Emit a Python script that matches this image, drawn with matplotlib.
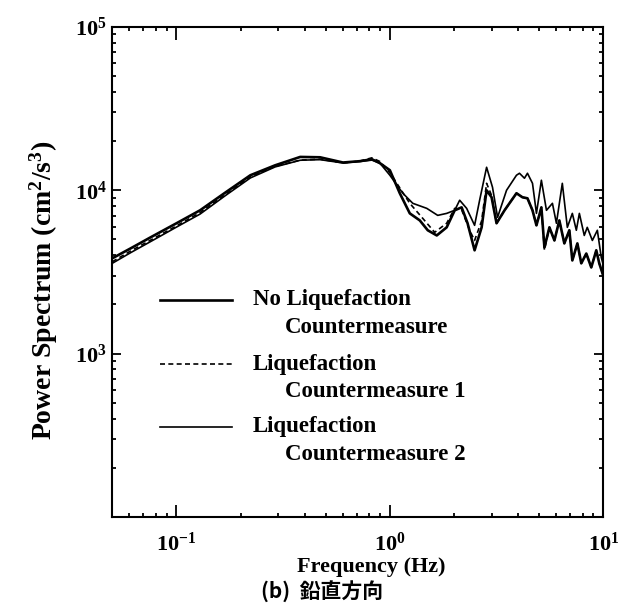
import matplotlib
matplotlib.use("Agg")
import matplotlib.pyplot as plt
from matplotlib.ticker import LogLocator, NullFormatter, FixedLocator, LogFormatterSciNotation

# values (Hz, cm^2/s^3)
freq_none = [0.050, 0.061, 0.0756, 0.100, 0.129, 0.169, 0.222, 0.290, 0.380, 0.471,
             0.603, 0.724, 0.824, 0.898, 1.0, 1.113, 1.240, 1.381, 1.505, 1.659,
             1.846, 2.013, 2.169, 2.313, 2.495, 2.692, 2.840, 2.997, 3.162, 3.447,
             3.920, 4.182, 4.414, 4.660, 4.863, 5.129, 5.300, 5.594, 5.904, 6.226,
             6.570, 6.935, 7.163, 7.563, 7.889, 8.329, 8.787, 9.275, 9.578, 10.0]
pow_none = [3830, 4410, 5150, 6280, 7540, 9660, 12360, 14220, 16000, 15920,
            14790, 15070, 15490, 14660, 13270, 9590, 7220, 6540, 5690, 5290,
            5930, 7540, 7860, 6280, 4290, 5930, 10000, 9060, 6280, 7540,
            9590, 9060, 8930, 7540, 6100, 7860, 4470, 5930, 4930, 6540,
            4730, 5690, 3720, 4730, 3570, 4100, 3370, 4290, 3570, 3000]

freq_cm1 = [0.050, 0.061, 0.0756, 0.100, 0.129, 0.169, 0.222, 0.290, 0.380, 0.471,
            0.603, 0.724, 0.824, 0.898, 1.0, 1.078, 1.240, 1.426, 1.622, 1.846,
            2.013, 2.169, 2.365, 2.495, 2.692, 2.840, 2.997, 3.162, 3.447, 3.920,
            4.182, 4.414, 4.660, 4.863, 5.129, 5.300, 5.594, 5.904, 6.226, 6.570,
            6.935, 7.163, 7.563, 7.889, 8.329, 8.787, 9.275, 9.578, 10.0]
pow_cm1 = [3650, 4250, 4950, 6050, 7300, 9400, 12100, 14000, 15300, 15500,
           14700, 15100, 15800, 15000, 12800, 11030, 8320, 6730, 5530, 6280,
           7750, 7600, 5690, 4930, 6500, 11030, 9300, 6280, 7540, 9590,
           9060, 8930, 7540, 6100, 7860, 4300, 5930, 4930, 6540, 4730,
           5690, 3720, 4730, 3570, 4100, 3370, 4290, 3570, 3000]

freq_cm2 = [0.050, 0.061, 0.0756, 0.100, 0.129, 0.169, 0.222, 0.290, 0.380, 0.471,
            0.603, 0.724, 0.824, 0.898, 1.0, 1.150, 1.281, 1.489, 1.676, 1.846,
            2.013, 2.124, 2.290, 2.495, 2.634, 2.840, 3.027, 3.197, 3.522, 3.920,
            4.049, 4.273, 4.414, 4.660, 4.863, 5.129, 5.418, 5.778, 6.032, 6.429,
            6.787, 7.163, 7.478, 7.727, 8.147, 8.414, 8.890, 9.382, 9.787, 10.0]
pow_cm2 = [3570, 4150, 4850, 5950, 7150, 9250, 11900, 13900, 15270, 15400,
           14700, 15000, 15300, 14660, 12360, 9590, 8320, 7750, 7020, 7220,
           7540, 8690, 7750, 6100, 8690, 13830, 10430, 6830, 10000, 12360,
           12710, 11850, 12710, 11030, 7220, 11520, 7540, 8320, 6280, 11030,
           5930, 7220, 5690, 7220, 5290, 5930, 4930, 5690, 3880, 3500]

legend_lines = ["No Liquefaction", "Liquefaction", "Liquefaction"]
legend_second = ["Countermeasure", "Countermeasure 1", "Countermeasure 2"]

plt.rcParams['font.family'] = ['Liberation Serif']
plt.rcParams['font.weight'] = 'bold'
plt.rcParams['mathtext.fontset'] = 'custom'
plt.rcParams['mathtext.rm'] = 'Liberation Serif:bold'
plt.rcParams['mathtext.it'] = 'Liberation Serif:bold'
plt.rcParams['mathtext.bf'] = 'Liberation Serif:bold'

fig = plt.figure(figsize=(6.2, 6.05), dpi=100)
ax = fig.add_axes([0.181, 0.1455, 0.792, 0.81])

ax.plot(freq_none, pow_none, color='black', lw=1.9)
ax.plot(freq_cm1, pow_cm1, color='black', lw=1.2, ls=(0, (3, 2)))
ax.plot(freq_cm2, pow_cm2, color='black', lw=1.2)

ax.set_xscale('log')
ax.set_yscale('log')
ax.set_xlim(0.05, 10)
ax.set_ylim(100, 1e5)

ax.xaxis.set_major_locator(FixedLocator([0.1, 1, 10]))
ax.yaxis.set_major_locator(FixedLocator([1e3, 1e4, 1e5]))
ax.xaxis.set_minor_locator(LogLocator(base=10, subs=range(2, 10), numticks=20))
ax.yaxis.set_minor_locator(LogLocator(base=10, subs=range(2, 10), numticks=20))
ax.xaxis.set_minor_formatter(NullFormatter())
ax.yaxis.set_minor_formatter(NullFormatter())
ax.xaxis.set_major_formatter(LogFormatterSciNotation())
ax.yaxis.set_major_formatter(LogFormatterSciNotation())

ax.tick_params(which='both', direction='in', top=True, right=True, width=1.3, labelsize=16)
ax.tick_params(axis='x', which='major', length=9, pad=11)
ax.tick_params(axis='y', which='major', length=6.5, pad=4)
ax.tick_params(which='minor', length=3.2)
for s in ax.spines.values():
    s.set_linewidth(1.5)

# legend drawn by hand so that the sample sits on the first line of each label
ys = [0.443, 0.312, 0.184]
styles = [dict(lw=1.9), dict(lw=1.2, ls=(0, (3, 2))), dict(lw=1.2)]
for i in range(3):
    ax.plot([0.098, 0.244], [ys[i], ys[i]], color='black', transform=ax.transAxes, **styles[i])
    ax.text(0.287, ys[i], legend_lines[i], transform=ax.transAxes, fontsize=16.5,
            fontweight='bold', va='center', ha='left')
    ax.text(0.352, ys[i] - 0.056, legend_second[i], transform=ax.transAxes, fontsize=16.5,
            fontweight='bold', va='center', ha='left')

fig.text(0.071, 0.521, "Power Spectrum (cm$^2$/s$^3$)", rotation=90, fontsize=20,
         fontweight='bold', ha='center', va='center')
fig.text(0.598, 0.063, "Frequency (Hz)", fontsize=16, fontweight='bold', ha='center', va='center')
fig.text(0.519, 0.022, "(b)  鉛直方向", fontsize=15, family=['Noto Sans CJK JP', 'DejaVu Sans'],
         fontweight='bold', ha='center', va='center')

fig.savefig("out.png", dpi=100)
